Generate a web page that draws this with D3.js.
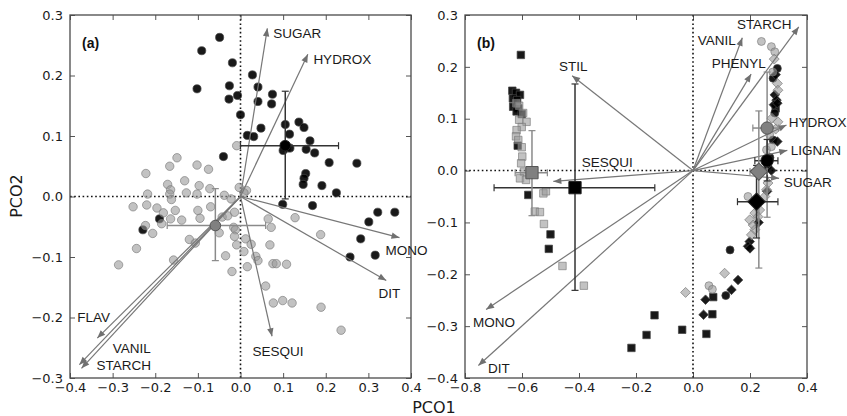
<!DOCTYPE html>
<html>
<head>
<meta charset="utf-8">
<script src="https://cdn.jsdelivr.net/npm/d3@7"></script>
<style>
  body { margin: 0; background: #fff; }
  text { font-family: "Liberation Sans", Arial, sans-serif; }
  .tick text { font-family: "DejaVu Sans", sans-serif; font-size: 13px; fill: #1a1a1a; }
</style>
</head>
<body>
<svg id="chart" width="847" height="416"></svg>
<script>
// ---- panel (a): PCO scores, circles ----
const blackA = [
  [-0.049,0.263],[-0.091,0.241],[-0.019,0.221],[-0.102,0.178],[0.028,0.201],[-0.026,0.183],
  [0.041,0.181],[-0.027,0.161],[-0.007,0.167],[0.075,0.169],[0.041,0.157],[0.073,0.153],
  [0.000,0.135],[0.048,0.113],[0.016,0.101],[0.031,0.099],[0.105,0.119],[0.115,0.103],
  [0.137,0.123],[0.149,0.114],[0.103,0.085],[0.108,0.080],[0.100,0.076],[0.116,0.080],
  [0.154,0.078],[0.163,0.092],[0.174,0.072],[0.208,0.056],[0.273,0.055],[-0.040,0.066],
  [0.153,0.038],[0.149,0.030],[0.147,0.020],[0.191,0.018],[0.225,0.006],[0.099,-0.013],
  [0.169,-0.015],[0.322,-0.026],[0.362,-0.026],[0.301,-0.042],[0.282,-0.070],[0.257,-0.100],
  [0.316,-0.097],[-0.229,-0.055],[-0.190,-0.037]
];
const greyA = [
  [-0.009,0.084],[-0.149,0.064],[-0.166,0.050],[-0.102,0.052],[-0.075,0.045],[-0.222,0.038],
  [-0.131,0.026],[-0.171,0.020],[-0.097,0.018],[-0.072,0.013],[-0.003,0.015],[0.014,0.010],
  [0.008,0.006],[-0.164,0.011],[-0.166,0.004],[-0.162,-0.005],[-0.218,0.004],[-0.127,0.006],
  [-0.102,0.004],[-0.038,0.002],[-0.022,-0.004],[-0.252,-0.017],[-0.220,-0.014],[-0.196,-0.019],
  [-0.181,-0.027],[-0.153,-0.023],[-0.100,-0.023],[-0.070,-0.017],[-0.185,-0.045],[-0.164,-0.037],
  [-0.138,-0.039],[-0.095,-0.036],[-0.043,-0.034],[-0.030,-0.032],[-0.014,-0.026],[-0.223,-0.048],
  [-0.206,-0.061],[0.065,-0.037],[0.072,-0.051],[0.128,-0.035],[0.188,-0.063],[-0.050,-0.060],
  [-0.016,-0.051],[-0.012,-0.055],[-0.014,-0.066],[-0.009,-0.080],[-0.120,-0.071],[-0.106,-0.077],
  [-0.244,-0.086],[0.012,-0.070],[0.025,-0.079],[0.069,-0.080],[0.008,-0.091],[-0.035,-0.098],
  [-0.157,-0.105],[0.036,-0.099],[0.041,-0.106],[0.076,-0.111],[0.084,-0.111],[0.108,-0.112],
  [0.016,-0.116],[-0.286,-0.113],[-0.020,-0.124],[0.059,-0.148],[0.077,-0.176],[0.099,-0.172],
  [0.121,-0.176],[0.189,-0.183],[0.236,-0.221]
];
// group means with error ranges [xlo, xhi, ylo, yhi]
const meansA = [
  { tone: "black", shape: "circle", x: 0.105, y: 0.084, err: [0.0, 0.23, -0.004, 0.174] },
  { tone: "grey", shape: "circle", x: -0.059, y: -0.048, err: [-0.172, 0.059, -0.106, 0.013] }
];
// vector loadings
const vecNamesA = ["SUGAR", "HYDROX", "MONO", "DIT", "SESQUI", "FLAV", "VANIL", "STARCH"];
const vecXA = [0.063, 0.158, 0.373, 0.342, 0.074, -0.336, -0.378, -0.373];
const vecYA = [0.278, 0.235, -0.068, -0.139, -0.231, -0.234, -0.278, -0.284];
const labXA = [0.077, 0.171, 0.340, 0.324, 0.028, -0.383, -0.300, -0.338];
const labYA = [0.262, 0.219, -0.096, -0.167, -0.263, -0.207, -0.258, -0.286];

// ---- panel (b) ----
const blackSquaresB = [
  [-0.604,0.223],[-0.634,0.154],[-0.621,0.150],[-0.607,0.146],[-0.632,0.139],[-0.617,0.136],
  [-0.631,0.123],[-0.613,0.120],[-0.619,0.114],[-0.601,0.109],[-0.615,0.048],[-0.578,-0.047],
  [-0.500,-0.123],[-0.506,-0.151],[-0.216,-0.342],[-0.163,-0.317],[-0.135,-0.279],[-0.038,-0.307],
  [0.047,-0.315],[0.068,-0.277],[0.071,-0.244],[0.290,0.120]
];
const greySquaresB = [
  [-0.596,0.111],[-0.584,0.094],[-0.610,0.098],[-0.601,0.084],[-0.619,0.078],[-0.621,0.066],
  [-0.613,0.059],[-0.601,0.045],[-0.599,0.027],[-0.603,0.014],[-0.593,-0.002],[-0.607,-0.015],
  [-0.586,-0.018],[-0.525,-0.044],[-0.516,-0.040],[-0.555,-0.079],[-0.537,-0.080],[-0.523,-0.103],
  [-0.458,-0.184],[-0.383,-0.222],[-0.620,0.130],[-0.610,0.125]
];
const greyCirclesB = [
  [0.240,0.249],[0.275,0.239],[0.287,0.229],[0.258,0.040],[0.275,0.046],[0.269,0.069],
  [0.193,-0.050],[0.056,-0.222],[0.068,-0.229],[0.280,0.190]
];
const blackCirclesB = [
  [0.296,0.197],[0.281,0.178],[0.281,0.059],[0.270,0.025],[0.262,0.010],[0.130,-0.153],
  [0.115,-0.241],[0.287,0.111]
];
const greyDiamondsB = [
  [0.296,0.168],[0.298,0.155],[0.277,0.101],[0.298,0.094],[0.263,-0.024],[0.258,-0.037],
  [0.252,-0.050],[0.217,-0.082],[0.234,-0.076],[0.228,-0.089],[0.199,-0.095],[0.211,-0.105],
  [0.217,-0.114],[0.205,-0.124],[0.111,-0.198],[-0.026,-0.235],[0.285,0.215],[0.290,0.080]
];
const blackDiamondsB = [
  [0.287,0.146],[0.293,0.136],[0.284,0.127],[0.296,0.130],[0.296,0.056],[0.275,0.000],
  [0.260,-0.040],[0.230,-0.100],[0.199,-0.137],[0.193,-0.146],[0.200,-0.150],[0.158,-0.211],
  [0.135,-0.230],[0.044,-0.249],[0.037,-0.278],[0.290,0.185]
];
const meansB = [
  { tone: "black", shape: "square", x: -0.414, y: -0.033, err: [-0.698, -0.134, -0.231, 0.167] },
  { tone: "grey", shape: "square", x: -0.565, y: -0.004, err: [-0.624, -0.511, -0.087, 0.077] },
  { tone: "grey", shape: "circle", x: 0.260, y: 0.082, err: [0.21, 0.30, -0.09, 0.19] },
  { tone: "black", shape: "circle", x: 0.260, y: 0.019, err: [0.217, 0.298, -0.02, 0.06] },
  { tone: "grey", shape: "diamond", x: 0.231, y: -0.002, err: [0.20, 0.26, -0.188, 0.115] },
  { tone: "black", shape: "diamond", x: 0.223, y: -0.060, err: [0.156, 0.298, -0.13, 0.01] }
];
const vecNamesB = ["STARCH", "VANIL", "PHENYL", "HYDROX", "LIGNAN", "SUGAR", "STIL", "SESQUI", "MONO", "DIT"];
const vecXB = [0.371, 0.173, 0.204, 0.328, 0.331, 0.302, -0.424, -0.490, -0.726, -0.753];
const vecYB = [0.277, 0.256, 0.186, 0.088, 0.039, -0.015, 0.183, -0.021, -0.268, -0.376];
const labXB = [0.154, 0.017, 0.066, 0.336, 0.343, 0.318, -0.470, -0.390, -0.772, -0.719];
const labYB = [0.273, 0.242, 0.198, 0.084, 0.030, -0.031, 0.192, 0.007, -0.301, -0.390];

const ticksXA = [-0.4, -0.3, -0.2, -0.1, 0.0, 0.1, 0.2, 0.3, 0.4];
const ticksYA = [-0.3, -0.2, -0.1, 0.0, 0.1, 0.2, 0.3];
const ticksXB = [-0.8, -0.6, -0.4, -0.2, 0.0, 0.2, 0.4];
const ticksYB = [-0.4, -0.3, -0.2, -0.1, 0.0, 0.1, 0.2, 0.3];

const svg = d3.select("#chart");

const tones = {
  black: { fill: "#000", fo: 0.9, stroke: "#444", so: 0.8, bar: "#333" },
  grey: { fill: "#999", fo: 0.6, stroke: "#777", so: 0.7, bar: "#8a8a8a" }
};
const meanFill = { black: "#000", grey: "#808080" };

svg.append("defs").append("marker")
    .attr("id", "head")
    .attr("markerUnits", "userSpaceOnUse")
    .attr("viewBox", "-9 -4 10 8")
    .attr("refX", 0).attr("refY", 0)
    .attr("markerWidth", 10).attr("markerHeight", 8)
    .attr("orient", "auto")
  .append("path")
    .attr("d", "M0,0L-8,-3.2L-8,3.2Z")
    .attr("fill", "#707070");

function symbolPath(shape, size) {
  if (shape === "circle") return d3.symbol(d3.symbolCircle, size)();
  return d3.symbol(d3.symbolSquare, size)();
}

function panel(box, xDom, yDom, xTicks, yTicks) {
  const x = d3.scaleLinear().domain(xDom).range([box.left, box.right]);
  const y = d3.scaleLinear().domain(yDom).range([box.bottom, box.top]);
  const g = svg.append("g");
  const fmt = d3.format(".1f");

  g.append("g").attr("transform", `translate(0,${box.bottom})`)
    .call(d3.axisBottom(x).tickValues(xTicks).tickFormat(fmt).tickSizeInner(-5).tickSizeOuter(0).tickPadding(5));
  g.append("g").attr("transform", `translate(${box.left},0)`)
    .call(d3.axisLeft(y).tickValues(yTicks).tickFormat(fmt).tickSizeInner(-5).tickSizeOuter(0).tickPadding(7));
  g.append("g").attr("transform", `translate(0,${box.top})`)
    .call(d3.axisTop(x).tickValues(xTicks).tickFormat("").tickSizeInner(-5).tickSizeOuter(0));
  g.append("g").attr("transform", `translate(${box.right},0)`)
    .call(d3.axisRight(y).tickValues(yTicks).tickFormat("").tickSizeInner(-5).tickSizeOuter(0));
  g.selectAll(".domain").remove();
  g.selectAll(".tick line").attr("stroke", "#555");

  // zero reference lines
  g.append("line")
    .attr("x1", x(0)).attr("x2", x(0)).attr("y1", box.top).attr("y2", box.bottom)
    .attr("stroke", "#111").attr("stroke-width", 1.6).attr("stroke-dasharray", "1.6,2.6");
  g.append("line")
    .attr("x1", box.left).attr("x2", box.right).attr("y1", y(0)).attr("y2", y(0))
    .attr("stroke", "#111").attr("stroke-width", 1.6).attr("stroke-dasharray", "1.6,2.6");

  g.append("rect")
    .attr("x", box.left).attr("y", box.top)
    .attr("width", box.right - box.left).attr("height", box.bottom - box.top)
    .attr("fill", "none").attr("stroke", "#4a4a4a").attr("stroke-width", 1.3);

  return { g, x, y };
}

function points(p, data, shape, tone, size) {
  const t = tones[tone];
  p.g.append("g").selectAll("path")
    .data(data)
    .enter()
    .append("path")
    .attr("d", symbolPath(shape, size))
    .attr("transform", d => `translate(${p.x(d[0])},${p.y(d[1])})` + (shape === "diamond" ? " rotate(45)" : ""))
    .attr("fill", t.fill).attr("fill-opacity", t.fo)
    .attr("stroke", t.stroke).attr("stroke-opacity", t.so).attr("stroke-width", 0.9);
}

function vectors(p, names, vx, vy, lx, ly) {
  const g = p.g.append("g");
  g.selectAll("line")
    .data(names)
    .enter()
    .append("line")
    .attr("x1", p.x(0)).attr("y1", p.y(0))
    .attr("x2", (d, i) => p.x(vx[i])).attr("y2", (d, i) => p.y(vy[i]))
    .attr("stroke", "#777").attr("stroke-width", 1.2)
    .attr("marker-end", "url(#head)");
  g.selectAll("text")
    .data(names)
    .enter()
    .append("text")
    .attr("x", (d, i) => p.x(lx[i])).attr("y", (d, i) => p.y(ly[i]))
    .text(d => d)
    .style("font-size", "13.5px")
    .style("fill", "#1a1a1a");
}

function means(p, data, size) {
  const g = p.g.append("g");
  data.forEach(m => {
    const c = tones[m.tone].bar;
    const [xlo, xhi, ylo, yhi] = m.err;
    const cx = p.x(m.x), cy = p.y(m.y);
    g.append("line").attr("x1", p.x(xlo)).attr("x2", p.x(xhi)).attr("y1", cy).attr("y2", cy)
      .attr("stroke", c).attr("stroke-width", 1.5);
    g.append("line").attr("x1", cx).attr("x2", cx).attr("y1", p.y(ylo)).attr("y2", p.y(yhi))
      .attr("stroke", c).attr("stroke-width", 1.5);
    [xlo, xhi].forEach(v => g.append("line")
      .attr("x1", p.x(v)).attr("x2", p.x(v)).attr("y1", cy - 3.5).attr("y2", cy + 3.5)
      .attr("stroke", c).attr("stroke-width", 1.2));
    [ylo, yhi].forEach(v => g.append("line")
      .attr("x1", cx - 3.5).attr("x2", cx + 3.5).attr("y1", p.y(v)).attr("y2", p.y(v))
      .attr("stroke", c).attr("stroke-width", 1.2));
  });
  g.selectAll("path")
    .data(data)
    .enter()
    .append("path")
    .attr("d", d => symbolPath(d.shape, d.shape === "circle" ? size * 0.8 : size))
    .attr("transform", d => `translate(${p.x(d.x)},${p.y(d.y)})` + (d.shape === "diamond" ? " rotate(45)" : ""))
    .attr("fill", d => meanFill[d.tone])
    .attr("stroke", d => d.tone === "black" ? "#222" : "#555")
    .attr("stroke-width", 1);
}

// panel (a)
const pa = panel({ left: 70, right: 411, top: 15, bottom: 378 }, [-0.4, 0.4], [-0.3, 0.3], ticksXA, ticksYA);
points(pa, blackA, "circle", "black", 52);
points(pa, greyA, "circle", "grey", 56);
vectors(pa, vecNamesA, vecXA, vecYA, labXA, labYA);
means(pa, meansA, 110);

// panel (b)
const pb = panel({ left: 465, right: 807, top: 15, bottom: 378 }, [-0.8, 0.4], [-0.4, 0.3], ticksXB, ticksYB);
points(pb, blackSquaresB, "square", "black", 56);
points(pb, blackCirclesB, "circle", "black", 50);
points(pb, blackDiamondsB, "diamond", "black", 46);
points(pb, greySquaresB, "square", "grey", 56);
points(pb, greyCirclesB, "circle", "grey", 50);
points(pb, greyDiamondsB, "diamond", "grey", 50);
vectors(pb, vecNamesB, vecXB, vecYB, labXB, labYB);
means(pb, meansB, 150);

// panel tags and axis titles
[[pa, "(a)"], [pb, "(b)"]].forEach(([p, t]) => {
  p.g.append("text")
    .attr("x", p.x.range()[0] + 12).attr("y", 48)
    .text(t)
    .style("font-size", "14px").style("font-weight", "bold").style("fill", "#111");
});

svg.append("text")
  .attr("transform", "translate(22,196) rotate(-90)")
  .attr("text-anchor", "middle")
  .text("PCO2")
  .style("font-family", "DejaVu Sans, sans-serif").style("font-size", "16px").style("fill", "#1a1a1a");

svg.append("text")
  .attr("x", 434).attr("y", 413)
  .attr("text-anchor", "middle")
  .text("PCO1")
  .style("font-family", "DejaVu Sans, sans-serif").style("font-size", "16px").style("fill", "#1a1a1a");
</script>
</body>
</html>
